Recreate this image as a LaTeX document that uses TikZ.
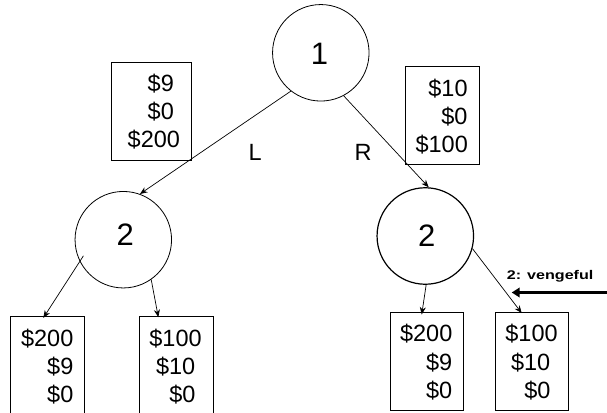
\documentclass[tikz,border=0pt]{standalone}
\usepackage{fontspec}
\setmainfont{Liberation Sans}
\usepackage{graphicx}
\usetikzlibrary{arrows.meta,calc}
\tikzset{
  big/.style={font=\fontsize{23.5}{28}\selectfont, inner sep=0pt},
  huge/.style={font=\fontsize{31}{36}\selectfont, inner sep=0pt},
  val/.style={big, anchor=base west},
  node circ/.style={draw, circle, minimum size=96.5pt, inner sep=0pt, line width=0.8pt},
  paybox/.style={draw, rectangle, inner sep=0pt, line width=0.8pt},
  link/.style={line width=0.7pt, -{Stealth[length=7.5pt,width=6pt]}},
  bigarrow/.style={line width=3.5pt, -{Triangle[length=8pt,width=9.5pt]}},
}
\begin{document}
\begin{tikzpicture}[x=1pt,y=-1pt]
\clip (0,0) rectangle (607,412);
% decision nodes
\node[node circ] (c1) at (320.8,52.8) {};
\node[node circ] (l2) at (123.3,239.7) {};
\node[node circ, line width=1.2pt] (r2) at (425.3,236) {};
\node[huge] (c1t) at (319.5,54.2) {1};
\node[huge] (l2t) at (125.3,234.2) {2};
\node[huge] (r2t) at (426.7,235.8) {2};
% payoff boxes
\node[paybox, minimum width=80pt, minimum height=97.7pt] (A) at (151.6,111.2) {};
\node[paybox, minimum width=73.6pt, minimum height=97.7pt] (B) at (442.5,115.2) {};
\node[paybox, minimum width=73.6pt, minimum height=114pt] (C) at (47.6,373) {};
\node[paybox, minimum width=74pt, minimum height=114pt] (D) at (176.3,373) {};
\node[paybox, minimum width=73.3pt, minimum height=97.3pt] (E) at (426.7,361.3) {};
\node[paybox, minimum width=73.3pt, minimum height=97.3pt] (F) at (531.7,361.3) {};
% box texts
\node[val] (a1) at (147.5,91.5) {\$9};
\node[val] (a2) at (147.5,119.5) {\$0};
\node[val] (a3) at (127.5,147.5) {\$200};
\node[val] (b1) at (428.2,96.3) {\$10};
\node[val] (b2) at (441.2,124.3) {\$0};
\node[val] (b3) at (415.4,152.3) {\$100};
\node[val] (c1a) at (20.9,346) {\$200};
\node[val] (c2a) at (47,374.3) {\$9};
\node[val] (c3a) at (47,402.6) {\$0};
\node[val] (d1) at (149.2,346) {\$100};
\node[val] (d2) at (155.9,374.3) {\$10};
\node[val] (d3) at (169.2,402.6) {\$0};
\node[val] (e1) at (399.9,341.7) {\$200};
\node[val] (e2) at (425.9,370) {\$9};
\node[val] (e3) at (425.9,398.3) {\$0};
\node[val] (f1) at (505.2,341.7) {\$100};
\node[val] (f2) at (510.9,370) {\$10};
\node[val] (f3) at (524.2,398.3) {\$0};
% move labels
\node[val] (Lbl) at (248.5,160) {L};
\node[val] (Rbl) at (354.3,160) {R};
% connectors
\draw[link] (c1.232) -- (l2.70);
\draw[link] (c1.298) -- (r2.86);
\draw[link] ($(l2.center)+(202:43pt)$) -- ([xshift=-4.3pt,yshift=-2.3pt]C.north);
\draw[link] (l2.305) -- ([xshift=-18pt,yshift=-1.5pt]D.north);
\draw[link] (r2.271) -- ([xshift=-5pt,yshift=-2.3pt]E.north);
\draw[link] (r2.345) -- ([xshift=-10pt,yshift=-0.8pt]F.north);
% annotation
\node[anchor=base west, inner sep=0pt, font=\bfseries\fontsize{12.6}{14}\selectfont] (veng) at (506.6,279) {\scalebox{1.28}[1]{2: vengeful}};
\coordinate (vs) at (608,292.5);
\coordinate (ve) at (511.7,292.5);
\draw[bigarrow] (vs) -- (ve);
\end{tikzpicture}
\end{document}
